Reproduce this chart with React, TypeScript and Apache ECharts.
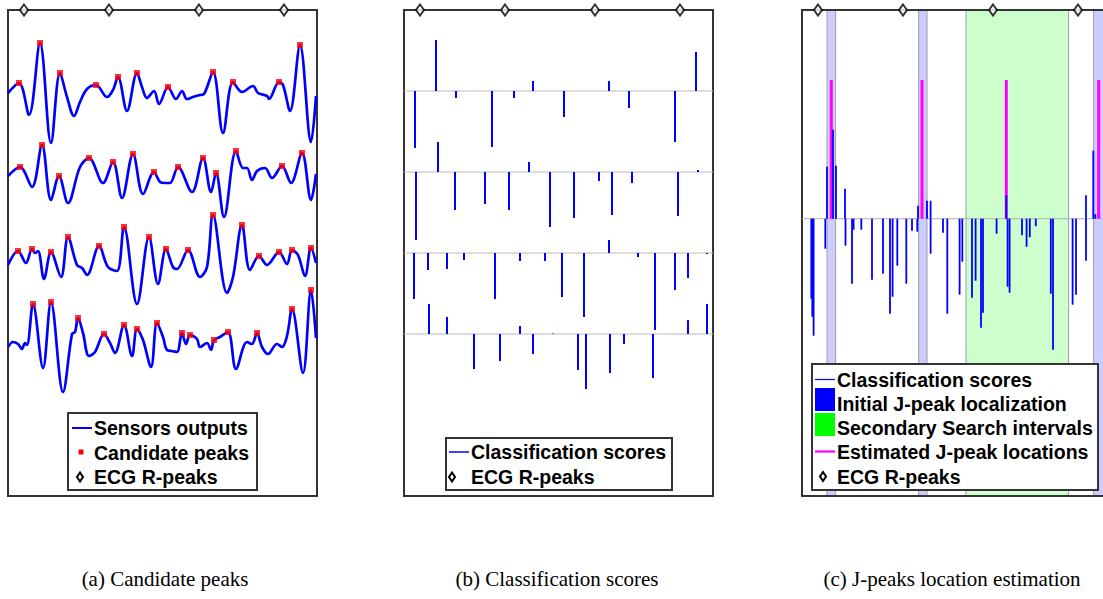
import React, { useEffect, useRef } from "react";
import * as echarts from "echarts";

// ---------- data (x in samples, y in arbitrary amplitude units) ----------
const X_MAX = 309;
const X_MAX_C = 301; // panel (c) is cut by the page edge
const Y_MAX = 486;
const rPeaks = [16, 101, 191, 276];

const trace1 = [[0,403],[11,413],[21,381],[32,453],[43,353],[52,423],[59,399],[66,380],[72,394],[79,407],[88,411],[99,399],[105,406],[110,419],[119,385],[129,423],[134,409],[139,398],[146,405],[151,392],[160,409],[168,397],[174,405],[179,397],[185,399],[192,401],[196,402],[205,424],[215,363],[225,414],[234,404],[245,410],[250,403],[259,400],[261,397],[271,414],[275,411],[282,385],[292,451],[303,354],[308,400]];
const trace2 = [[0,320],[12,329],[24,309],[34,351],[43,296],[51,320],[60,293],[72,329],[81,338],[95,313],[105,334],[114,298],[125,342],[135,302],[146,324],[152,314],[157,313],[162,313],[170,329],[184,304],[195,338],[203,304],[208,323],[216,279],[228,345],[235,328],[239,328],[244,316],[249,325],[257,328],[264,318],[274,330],[283,313],[294,343],[303,296],[308,322]];
const trace3 = [[0,231],[10,245],[18,233],[24,247],[27,243],[30,245],[36,217],[43,244],[53,219],[60,259],[69,231],[74,228],[79,221],[91,250],[100,229],[109,225],[116,269],[129,192],[141,259],[150,212],[158,247],[165,229],[169,227],[180,246],[192,219],[199,229],[205,281],[219,203],[225,219],[234,271],[242,226],[251,240],[259,231],[271,244],[279,232],[284,246],[290,241],[297,220],[303,248],[308,233]];
const trace4 = [[0,149],[5,154],[10,152],[14,147],[17,153],[19,151],[25,192],[35,128],[43,194],[55,104],[64,162],[67,164],[70,178],[75,163],[81,140],[87,144],[96,162],[102,153],[107,143],[116,171],[124,140],[129,167],[135,156],[143,129],[149,173],[155,159],[159,146],[164,145],[169,144],[174,163],[178,152],[182,161],[189,157],[192,149],[199,153],[203,146],[206,156],[212,159],[220,164],[228,127],[239,154],[244,152],[249,163],[254,149],[260,142],[269,152],[274,149],[279,160],[284,187],[295,123],[303,206],[308,158]];

const peaks1 = [[11,413],[32,453],[52,423],[88,411],[110,419],[129,423],[160,409],[205,424],[225,414],[271,414],[292,451]];
const peaks2 = [[12,329],[34,351],[51,320],[81,338],[105,334],[125,342],[146,324],[170,329],[195,338],[208,323],[228,345],[274,330],[294,343]];
const peaks3 = [[10,245],[24,247],[43,244],[60,259],[91,250],[116,269],[141,259],[158,247],[180,246],[205,281],[234,271],[251,240],[271,244],[284,246],[303,248]];
const peaks4 = [[25,192],[43,194],[70,178],[96,162],[116,171],[129,167],[149,173],[174,163],[182,161],[206,156],[220,164],[249,163],[284,187],[303,206]];

const scores1 = [-57,51,-7,-56,-7,10,-26,10,-17,-51,39];
const scores2 = [-68,30,-38,-32,-38,10,-55,-46,-9,-43,-11,-44,2];
const scores3 = [-46,-17,-16,-7,-46,-8,-8,-44,-64,13,-4,-77,-37,-25,-1];
const scores4 = [30,17,-35,-27,8,-20,0.5,-36,-55,-39,-10,-44,14,30];
const rowBaselines = [405, 324, 243, 162];

const fusedBaseline = 277.3;
const fusedScores = [[9.3,-80],[10.3,-98],[11.6,-117],[23.3,-30],[25,52],[31,89],[34,53],[43,30],[43.5,-27],[50,-65],[51.6,-11],[59.3,-11],[70,-61],[81,-55],[88,-95],[90.6,-78],[95.3,-47],[104.3,-65],[110,-12],[115.3,-13],[116,13],[125,18],[128.6,18],[128.6,-35],[141,-14],[145.3,-95],[157.6,-76],[160.3,-43],[170,-79],[173.6,-62],[179,-109],[181,-94],[194.6,-15],[204.3,23.5],[205.6,-68],[207.6,-74],[220,-16.5],[224.6,-28],[227.8,-18.5],[233.8,-7.5],[248.8,-75],[251,-131],[270.6,-86],[274,-76],[284,23.5],[284,-42],[291.3,68],[293.3,4.5]];
const jPeakX = [29.3, 120, 204.3, 296.7];
const jPeakHeight = 138.7;
const initialIntervals = [[25, 33.6], [116.6, 125], [291.6, 330]];
const secondaryIntervals = [[164, 266.6]];

const captions = ["(a) Candidate peaks", "(b) Classification scores", "(c) J-peaks location estimation"];
const legendA = ["Sensors outputs", "Candidate peaks", "ECG R-peaks"];
const legendB = ["Classification scores", "ECG R-peaks"];
const legendC = ["Classification scores", "Initial J-peak localization", "Secondary Search intervals", "Estimated J-peak locations", "ECG R-peaks"];

// ---------- styling / layout ----------
const BLUE = "#0000ff";
const RED = "#ff0000";
const MAGENTA = "#ff00ff";
const gridLefts = [8, 404, 802];
const gridWidths = [309, 309, 301];
const xMaxes = [X_MAX, X_MAX, X_MAX_C];
const GRID_TOP = 10;
const GRID_W = 309;
const GRID_H = 486;
const LEGEND_FONT = '"Liberation Sans", Arial, sans-serif';

const stemRenderer = (color: string, width: number) => (params: any, api: any) => {
  const x = api.value(0);
  const amp = api.value(1);
  const base = api.value(2);
  const a = api.coord([x, base]);
  const b = api.coord([x, base + amp]);
  return {
    type: "line",
    shape: { x1: a[0], y1: a[1], x2: b[0], y2: b[1] },
    style: { stroke: color, lineWidth: width },
  };
};

const bandRenderer = (params: any, api: any) => {
  const x0 = api.value(0);
  const x1 = api.value(1);
  const kind = api.value(2);
  const a = api.coord([x0, Y_MAX]);
  const b = api.coord([x1, 0]);
  return {
    type: "rect",
    shape: { x: a[0], y: a[1], width: b[0] - a[0], height: b[1] - a[1] },
    style: { fill: kind === 0 ? "#ccccff" : "#ccffcc", stroke: "#a0a0a0", lineWidth: 1 },
  };
};

function legendText(x: number, y: number, text: string) {
  return {
    type: "text",
    x,
    y,
    z: 21,
    style: { text, fontFamily: LEGEND_FONT, fontWeight: "bold", fontSize: 19.5, fill: "#000", verticalAlign: "middle", align: "left" },
  };
}
function legendDiamond(cx: number, cy: number) {
  return {
    type: "polygon",
    z: 21,
    shape: { points: [[cx, cy - 4.5], [cx + 3, cy], [cx, cy + 4.5], [cx - 3, cy]] },
    style: { fill: "#fff", stroke: "#000", lineWidth: 2 },
  };
}
function legendBox(x: number, y: number, w: number, h: number) {
  return { type: "rect", z: 20, shape: { x, y, width: w, height: h }, style: { fill: "#fff", stroke: "#333", lineWidth: 2 } };
}
function hline(x1: number, x2: number, y: number, color: string, w: number) {
  return { type: "line", z: 21, shape: { x1, y1: y, x2, y2: y }, style: { stroke: color, lineWidth: w } };
}

export default function App() {
  const ref = useRef<HTMLDivElement>(null);
  useEffect(() => {
    if (!ref.current) return;
    const chart = echarts.init(ref.current, undefined, { renderer: "svg" });

    const grids = gridLefts.map((l, i) => ({ left: l, top: GRID_TOP, width: gridWidths[i], height: GRID_H, show: false, containLabel: false, outerBoundsMode: "none" }));
    const xAxes = gridLefts.map((_, i) => ({ gridIndex: i, type: "value", min: 0, max: xMaxes[i], show: false }));
    const yAxes = gridLefts.map((_, i) => ({ gridIndex: i, type: "value", min: 0, max: Y_MAX, show: false }));

    const series: any[] = [];
    // Panel (a)
    [trace1, trace2, trace3, trace4].forEach((t) => {
      series.push({
        name: "Sensors outputs",
        type: "line",
        xAxisIndex: 0,
        yAxisIndex: 0,
        data: t,
        smooth: 0.35,
        showSymbol: false,
        lineStyle: { color: BLUE, width: 2.7 },
        z: 3,
      });
    });
    [peaks1, peaks2, peaks3, peaks4].forEach((p) => {
      series.push({
        name: "Candidate peaks",
        type: "scatter",
        xAxisIndex: 0,
        yAxisIndex: 0,
        data: p,
        symbol: "rect",
        symbolSize: 6,
        itemStyle: { color: RED },
        z: 5,
      });
    });

    // Panel (b)
    rowBaselines.forEach((b) => {
      series.push({
        type: "line",
        xAxisIndex: 1,
        yAxisIndex: 1,
        data: [[0, b], [X_MAX, b]],
        showSymbol: false,
        lineStyle: { color: "#bbbbbb", width: 1 },
        z: 2,
        silent: true,
      });
    });
    const allPeaks = [peaks1, peaks2, peaks3, peaks4];
    [scores1, scores2, scores3, scores4].forEach((s, i) => {
      series.push({
        name: "Classification scores",
        type: "custom",
        xAxisIndex: 1,
        yAxisIndex: 1,
        data: s.map((v, k) => [allPeaks[i][k][0], v, rowBaselines[i]]),
        renderItem: stemRenderer(BLUE, 2),
        z: 3,
      });
    });

    // Panel (c)
    series.push({
      name: "Search intervals",
      type: "custom",
      xAxisIndex: 2,
      yAxisIndex: 2,
      data: [
        ...secondaryIntervals.map((r) => [r[0], r[1], 1]),
        ...initialIntervals.map((r) => [r[0], r[1], 0]),
      ],
      renderItem: bandRenderer,
      z: 0,
    });
    series.push({
      type: "line",
      xAxisIndex: 2,
      yAxisIndex: 2,
      data: [[0, fusedBaseline], [X_MAX_C, fusedBaseline]],
      showSymbol: false,
      lineStyle: { color: "#b0b0b0", width: 1 },
      z: 2,
      silent: true,
    });
    series.push({
      name: "Estimated J-peak locations",
      type: "custom",
      xAxisIndex: 2,
      yAxisIndex: 2,
      data: jPeakX.map((x) => [x, jPeakHeight, fusedBaseline]),
      renderItem: stemRenderer(MAGENTA, 3),
      z: 3,
    });
    series.push({
      name: "Classification scores",
      type: "custom",
      xAxisIndex: 2,
      yAxisIndex: 2,
      data: fusedScores.map((d) => [d[0], d[1], fusedBaseline]),
      renderItem: stemRenderer(BLUE, 1.8),
      z: 4,
    });

    // R-peak diamonds on all panels
    [0, 1, 2].forEach((i) => {
      series.push({
        name: "ECG R-peaks",
        type: "scatter",
        xAxisIndex: i,
        yAxisIndex: i,
        data: rPeaks.map((x) => [x, Y_MAX]),
        symbol: "diamond",
        symbolSize: [8, 11],
        itemStyle: { color: "#fff", borderColor: "#000", borderWidth: 2 },
        clip: false,
        z: 10,
      });
    });

    const graphics: any[] = [];
    // panel borders
    gridLefts.forEach((l) => {
      graphics.push({ type: "rect", z: 1, shape: { x: l, y: GRID_TOP, width: GRID_W, height: GRID_H }, style: { fill: "none", stroke: "#333", lineWidth: 2 } });
    });
    // legend (a)
    graphics.push(legendBox(68, 413, 189, 77));
    graphics.push(hline(72, 92, 428, BLUE, 2));
    graphics.push({ type: "rect", z: 21, shape: { x: 78.5, y: 449.5, width: 5, height: 5 }, style: { fill: RED } });
    graphics.push(legendDiamond(80, 477));
    legendA.forEach((t, i) => graphics.push(legendText(94, [428, 452.5, 477][i], t)));
    // legend (b)
    graphics.push(legendBox(446, 438, 226, 52));
    graphics.push(hline(449, 469, 452, BLUE, 1.5));
    graphics.push(legendDiamond(452, 477));
    legendB.forEach((t, i) => graphics.push(legendText(471, [452, 477][i], t)));
    // legend (c)
    graphics.push(legendBox(812, 364, 286, 126));
    graphics.push(hline(815, 835, 379.5, BLUE, 1.2));
    graphics.push({ type: "rect", z: 21, shape: { x: 815, y: 388, width: 20, height: 23 }, style: { fill: BLUE } });
    graphics.push({ type: "rect", z: 21, shape: { x: 815, y: 413, width: 20, height: 23 }, style: { fill: "#00ff00" } });
    graphics.push(hline(815, 835, 451.5, MAGENTA, 2.2));
    graphics.push(legendDiamond(823, 476.5));
    legendC.forEach((t, i) => graphics.push(legendText(837, [379.5, 403.5, 427.5, 451.5, 476.5][i], t)));
    // captions
    [165, 557, 952].forEach((cx, i) => {
      graphics.push({
        type: "text",
        x: cx,
        y: 579,
        z: 21,
        style: { text: captions[i], fontFamily: '"Liberation Serif", "DejaVu Serif", serif', fontSize: 21, fill: "#000", align: "center", verticalAlign: "middle" },
      });
    });

    chart.setOption({
      animation: false,
      backgroundColor: "#fff",
      grid: grids,
      xAxis: xAxes,
      yAxis: yAxes,
      series,
      graphic: { elements: graphics },
    });
    return () => chart.dispose();
  }, []);
  return <div ref={ref} style={{ position: "absolute", left: 0, top: 0, width: "1103px", height: "599px" }} />;
}
